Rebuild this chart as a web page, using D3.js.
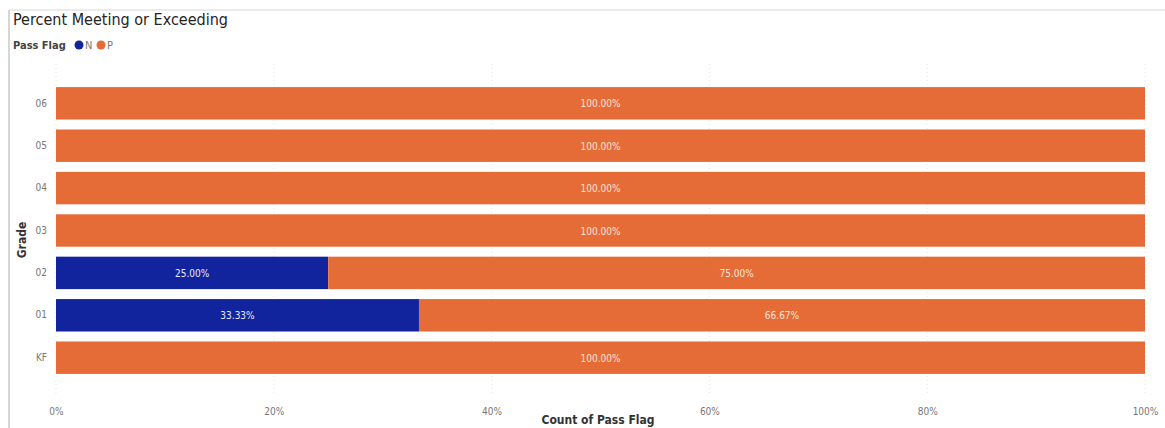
<!DOCTYPE html>
<html>
<head>
<meta charset="utf-8">
<script src="https://cdn.jsdelivr.net/npm/d3@7"></script>
<style>
  body { margin: 0; background: #fff; }
  svg { display: block; font-family: "DejaVu Sans Condensed", "DejaVu Sans", sans-serif; }
</style>
</head>
<body>
<svg id="chart" width="1165" height="428"></svg>
<script>
// data
const grades = ["06", "05", "04", "03", "02", "01", "KF"];
const nValues = [0, 0, 0, 0, 25.00, 33.33, 0];
const pValues = [100, 100, 100, 100, 75.00, 66.67, 100];
const xTicks = [0, 20, 40, 60, 80, 100];
const seriesNames = ["N", "P"];
const seriesColors = ["#12239E", "#E66C37"];

let svg = d3.select("#chart");
let margin = {top: 82, right: 20, bottom: 49, left: 56};
let width = 1145 - margin.left;
let height = 379 - margin.top;

// frame lines
svg.append("line")
    .attr("x1", 9).attr("x2", 1165).attr("y1", 10).attr("y2", 10)
    .attr("stroke", "#d6d6d6").attr("stroke-width", 1);
svg.append("line")
    .attr("x1", 9).attr("x2", 9).attr("y1", 10).attr("y2", 428)
    .attr("stroke", "#d6d6d6").attr("stroke-width", 2);

svg.append("text")
    .attr("x", 13).attr("y", 25)
    .attr("font-size", 16)
    .attr("fill", "#252423")
    .text("Percent Meeting or Exceeding");

// legend
let legend = svg.append("g").attr("transform", "translate(13,49)");
legend.append("text")
    .attr("x", 0).attr("y", 0)
    .attr("font-size", 11).attr("font-weight", "bold")
    .attr("fill", "#444")
    .text("Pass Flag");
seriesNames.forEach((s, i) => {
    let cx = 66 + i * 22;
    legend.append("circle")
        .attr("cx", cx).attr("cy", -4).attr("r", 4.5)
        .attr("fill", seriesColors[i]);
    legend.append("text")
        .attr("x", cx + 6).attr("y", 0)
        .attr("font-size", 11).attr("fill", "#777")
        .text(s);
});

let x = d3.scaleLinear().domain([0, 100]).range([0, width]);
let y = d3.scaleBand().domain(grades).range([0, height]).paddingInner(0.235).paddingOuter(0.12);

let g = svg.append("g")
    .attr("transform", "translate(" + margin.left + "," + margin.top + ")");

// dotted gridlines
g.selectAll(".grid")
    .data(xTicks)
    .enter()
    .append("line")
    .attr("x1", d => x(d)).attr("x2", d => x(d))
    .attr("y1", -18).attr("y2", height + 16)
    .attr("stroke", "#e4e4e4")
    .attr("stroke-dasharray", "1,3");

let rows = grades.map((gr, i) => ({grade: gr, n: nValues[i], p: pValues[i]}));

let stack = d3.stack().keys(["n", "p"])(rows);

stack.forEach((layer, li) => {
    g.selectAll(".bar" + li)
        .data(layer)
        .enter()
        .append("rect")
        .attr("x", d => x(d[0]))
        .attr("y", d => y(d.data.grade))
        .attr("width", d => x(d[1]) - x(d[0]))
        .attr("height", y.bandwidth())
        .attr("fill", seriesColors[li]);

    g.selectAll(".lab" + li)
        .data(layer.filter(d => d[1] - d[0] > 0))
        .enter()
        .append("text")
        .attr("x", d => (x(d[0]) + x(d[1])) / 2)
        .attr("y", d => y(d.data.grade) + y.bandwidth() / 2 + 4)
        .attr("text-anchor", "middle")
        .attr("font-size", 10)
        .attr("fill", li === 0 ? "#e8e8f4" : "#f8e4d8")
        .text(d => (d[1] - d[0]).toFixed(2) + "%");
});

// y axis labels
let yAxis = g.append("g")
    .call(d3.axisLeft(y).tickSize(0).tickPadding(9));
yAxis.select(".domain").remove();
yAxis.selectAll("text")
    .attr("font-size", 10)
    .attr("fill", "#777")
    .attr("font-family", "DejaVu Sans Condensed, sans-serif");

// x axis labels
let xAxis = g.append("g")
    .attr("transform", "translate(0," + (height + 26) + ")")
    .call(d3.axisBottom(x).tickValues(xTicks).tickSize(0).tickFormat(d => d + "%"));
xAxis.select(".domain").remove();
xAxis.selectAll("text")
    .attr("font-size", 10)
    .attr("fill", "#777")
    .attr("font-family", "DejaVu Sans Condensed, sans-serif");

// axis titles
svg.append("text")
    .attr("transform", "translate(26,240) rotate(-90)")
    .attr("text-anchor", "middle")
    .attr("font-size", 12).attr("font-weight", "bold")
    .attr("fill", "#333")
    .text("Grade");

svg.append("text")
    .attr("x", 598).attr("y", 424)
    .attr("text-anchor", "middle")
    .attr("font-size", 12).attr("font-weight", "bold")
    .attr("fill", "#333")
    .text("Count of Pass Flag");
</script>
</body>
</html>
